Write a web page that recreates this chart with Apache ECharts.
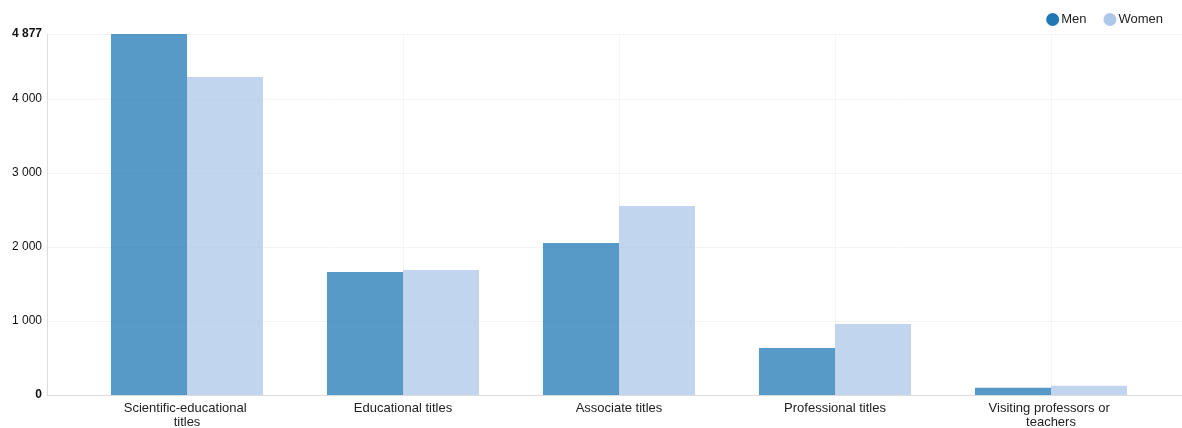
<!DOCTYPE html>
<html>
<head>
<meta charset="utf-8">
<script src="https://cdn.jsdelivr.net/npm/echarts@6/dist/echarts.min.js"></script>
<style>
html,body{margin:0;padding:0;background:#fff;}
#chart{width:1182px;height:428px;}
</style>
</head>
<body>
<div id="chart"></div>
<script>
const categories = ['Scientific-educational titles', 'Educational titles', 'Associate titles', 'Professional titles', 'Visiting professors or teachers'];
const seriesNames = ['Men', 'Women'];
const menValues = [4877, 1662, 2053, 635, 98];
const womenValues = [4296, 1689, 2553, 959, 126];
const yMax = 4877;

const fmt = v => String(v).replace(/\B(?=(\d{3})+(?!\d))/g, ' ');
const chart = echarts.init(document.getElementById('chart'));
const font = 'Arial, "Liberation Sans", sans-serif';

chart.setOption({
  animation: false,
  textStyle: { fontFamily: font },
  legend: {
    right: 14, top: 8,
    icon: 'circle', itemWidth: 13, itemHeight: 13, itemGap: 17,
    textStyle: { fontSize: 13, color: '#222', fontFamily: font, padding: [0, 0, 0, -3] },
    data: [
      { name: seriesNames[0], itemStyle: { opacity: 1 } },
      { name: seriesNames[1], itemStyle: { opacity: 1 } }
    ]
  },
  grid: [
    { left: 79, right: 23, top: 34, bottom: 33, outerBoundsMode: 'none', containLabel: false },
    { left: 47, right: 0, top: 34, bottom: 33, outerBoundsMode: 'none', containLabel: false }
  ],
  xAxis: [
    {
      type: 'category', gridIndex: 0, data: categories,
      axisLine: { show: false }, axisTick: { show: false },
      splitLine: { show: false },
      axisLabel: { fontSize: 13, color: '#222', margin: 6, width: 135, overflow: 'break', lineHeight: 14, fontFamily: font, interval: 0 }
    },
    {
      type: 'value', gridIndex: 1, min: 0, max: 1,
      axisLine: { show: true, lineStyle: { color: '#dcdcdc', width: 1 } },
      axisTick: { show: false }, axisLabel: { show: false }, splitLine: { show: false }
    }
  ],
  yAxis: [
    { type: 'value', gridIndex: 0, min: 0, max: yMax, show: false, splitLine: { show: false } },
    {
      type: 'value', gridIndex: 1, min: 0, max: yMax, interval: 1000,
      axisLine: { show: true, lineStyle: { color: '#dcdcdc', width: 1 } },
      axisTick: { show: false },
      splitLine: { show: true, lineStyle: { color: '#f4f4f4', width: 1 } },
      axisLabel: {
        fontSize: 12, color: '#111', margin: 5, fontFamily: font,
        formatter: v => (v === 0 || v === yMax) ? '{b|' + fmt(v) + '}' : fmt(v),
        rich: { b: { fontWeight: 'bold', fontSize: 12, color: '#111', fontFamily: font } }
      }
    }
  ],
  series: [
    {
      name: 'centerLines', type: 'line', xAxisIndex: 0, yAxisIndex: 0,
      data: categories.map(() => null), z: 0, silent: true,
      symbol: 'none', lineStyle: { opacity: 0 },
      markLine: {
        silent: true, symbol: 'none', label: { show: false }, z: 0,
        lineStyle: { color: '#f5f5f5', type: 'solid', width: 1 },
        data: categories.map(c => ({ xAxis: c }))
      }
    },
    {
      name: seriesNames[0], type: 'bar', xAxisIndex: 0, yAxisIndex: 0, z: 3,
      data: menValues, barWidth: 76, barGap: '0%',
      itemStyle: { color: '#1f77b4', opacity: 0.75 }
    },
    {
      name: seriesNames[1], type: 'bar', xAxisIndex: 0, yAxisIndex: 0, z: 3,
      data: womenValues, barWidth: 76, barGap: '0%',
      itemStyle: { color: '#aec7e8', opacity: 0.75 }
    }
  ]
});
</script>
</body>
</html>
